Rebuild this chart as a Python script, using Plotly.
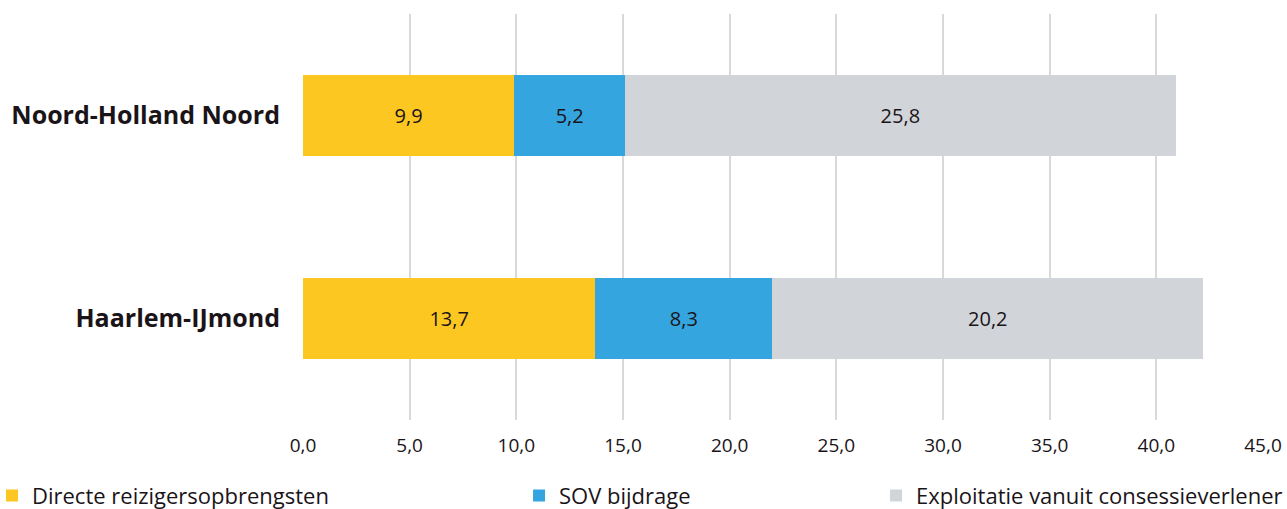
import plotly.graph_objects as go

categories = ["Haarlem-IJmond", "Noord-Holland Noord"]
series_names = ["Directe reizigersopbrengsten", "SOV bijdrage", "Exploitatie vanuit consessieverlener"]
directe = [13.7, 9.9]
sov = [8.3, 5.2]
exploitatie = [20.2, 25.8]
tick_vals = [0, 5, 10, 15, 20, 25, 30, 35, 40, 45]

colors = ["#FCC721", "#34A5DF", "#D1D4D9"]
values = [directe, sov, exploitatie]
legends = ["legend", "legend2", "legend3"]

fig = go.Figure()
for name, vals, col, lg in zip(series_names, values, colors, legends):
    fig.add_trace(go.Bar(
        y=categories, x=vals, name=name, orientation="h",
        marker=dict(color=col, line=dict(width=0)),
        texttemplate="%{x:.1f}", textposition="inside", insidetextanchor="middle",
        textfont=dict(color="#1a1418", size=20, family="Open Sans"),
        legend=lg, width=0.4, showlegend=True,
    ))

legend_common = dict(orientation="h", yanchor="middle", y=0.026, xanchor="left",
                     xref="container", yref="container",
                     font=dict(size=22, color="#1a1418", family="Open Sans"),
                     bgcolor="rgba(0,0,0,0)", itemwidth=30)
fig.update_layout(
    barmode="stack",
    showlegend=True,
    width=1287, height=509,
    margin=dict(l=303, r=24, t=14, b=89, autoexpand=False),
    paper_bgcolor="white", plot_bgcolor="white",
    separators=",.",
    bargap=0.6,
    legend=dict(x=0.0, indentation=-8, **legend_common),
    legend2=dict(x=0.4033, **legend_common),
    legend3=dict(x=0.6807, **legend_common),
    xaxis=dict(range=[0, 45], tickvals=tick_vals, tickformat=".1f",
               showgrid=True, gridcolor="#D9D9D9", gridwidth=2,
               zeroline=False, showline=False, ticks="",
               tickfont=dict(size=19, color="#1a1418", family="Open Sans"),
               ticklabelstandoff=12),
    yaxis=dict(showgrid=False, ticks="", ticklabelstandoff=22,
               tickfont=dict(size=25, color="#1a1418", family="Open Sans", weight="bold")),
)
fig.write_html("out.html", config={"displayModeBar": False},
               post_script="document.body.style.margin='0';")
